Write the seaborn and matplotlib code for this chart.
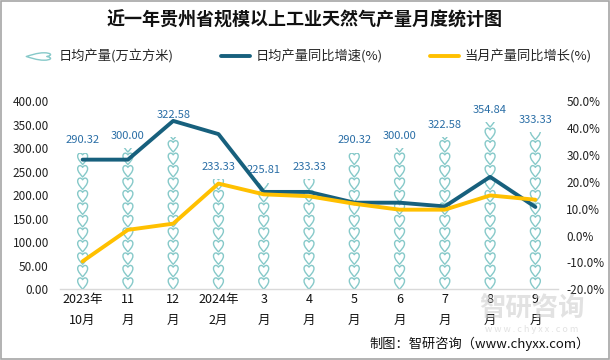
import numpy as np
import pandas as pd
import seaborn as sns
import matplotlib
matplotlib.use("Agg")
import matplotlib.pyplot as plt
from matplotlib.path import Path
from matplotlib.lines import Line2D
import matplotlib.patches as mpatches

# ---------------- data ----------------
months = ["2023年\n10月", "11\n月", "12\n月", "2024年\n2月", "3\n月", "4\n月",
          "5\n月", "6\n月", "7\n月", "8\n月", "9\n月"]
daily_output = [290.32, 300.00, 322.58, 233.33, 225.81, 233.33,
                290.32, 300.00, 322.58, 354.84, 333.33]
daily_yoy = [28.2, 28.2, 42.6, 37.7, 16.2, 16.2, 12.2, 12.2, 10.8, 21.8, 10.6]
monthly_yoy = [-9.6, 2.1, 4.4, 19.3, 15.3, 14.6, 11.8, 9.6, 9.6, 14.9, 13.3]
left_ticks = [0, 50, 100, 150, 200, 250, 300, 350, 400]
right_ticks = [-20, -10, 0, 10, 20, 30, 40, 50]
series_names = ["日均产量(万立方米)", "日均产量同比增速(%)", "当月产量同比增长(%)"]
title = "近一年贵州省规模以上工业天然气产量月度统计图"
source = "制图：智研咨询（www.chyxx.com）"

# ---------------- style ----------------
sns.set_theme(style="white")
plt.rcParams["font.family"] = ["Noto Sans CJK SC", "DejaVu Sans"]

TEAL = "#86c9c9"
DARK = "#17607d"
YELLOW = "#ffc000"
LABEL = "#2a6ea6"

# heart-shaped pictograph marker
heart_verts = np.array([
    (0, -1.0),
    (-0.25, -0.7), (-0.8, -0.2), (-0.8, 0.35),
    (-0.8, 0.85), (-0.3, 1.05), (0, 0.55),
    (0.3, 1.05), (0.8, 0.85), (0.8, 0.35),
    (0.8, -0.2), (0.25, -0.7), (0, -1.0),
    (0, -1.0),
])
heart_codes = [Path.MOVETO] + [Path.CURVE4] * 12 + [Path.CLOSEPOLY]
heart = Path(heart_verts, heart_codes)
legend_heart = Path(heart_verts[:, ::-1] * np.array([1.0, 0.35]), heart_codes)

df = pd.DataFrame({"month": months, "output": daily_output,
                   "dyoy": daily_yoy, "myoy": monthly_yoy})
pos = np.arange(len(months))

fig = plt.figure(figsize=(6.1, 3.6), dpi=100)

# faint watermark (behind everything)
fig.text(532 / 610, 1 - 309 / 360, "智研咨询", ha="center", va="center",
         fontsize=19, color="#cfcfcf", alpha=0.6, fontweight="bold", zorder=0)
fig.text(532 / 610, 1 - 330 / 360, "w w w . c h y x x . c o m", ha="center",
         va="center", fontsize=6.5, color="#cfcfcf", alpha=0.6, zorder=0)

ax = fig.add_axes([60 / 610, 1 - 289.3 / 360, (558 - 60) / 610, (289.3 - 101) / 360])
ax.patch.set_alpha(0)

sns.barplot(data=df, x="month", y="output", ax=ax, width=0.3,
            color="white", linewidth=0)
heart_unit = 26.5
bars = list(ax.patches)
for p in bars:
    p.set_facecolor("none")
    p.set_edgecolor("none")
    xc = p.get_x() + p.get_width() / 2
    h = p.get_height()
    ys = np.arange(heart_unit / 2, h + heart_unit / 2, heart_unit)
    sc = ax.scatter(np.full(len(ys), xc), ys, marker=heart, s=88,
                    facecolors="none", edgecolors=TEAL, linewidths=1.0, zorder=2)
    sc.set_clip_path(p)

label_offsets = [9, 9, 16, 9, 9, 9, 9, 9, 9, 9, 9]
for p, v, off in zip(bars, daily_output, label_offsets):
    ax.annotate(f"{v:.2f}", (p.get_x() + p.get_width() / 2, p.get_height()),
                xytext=(0, off), textcoords="offset points",
                ha="center", va="center", fontsize=8, color=LABEL, zorder=5)

ax.set_ylim(0, 400)
ax.set_xlim(-0.5, len(months) - 0.5)
ax.set_yticks(left_ticks)
ax.set_yticklabels([f"{t:.2f}" for t in left_ticks], fontsize=8.5, color="#222222")
ax.set_xticks(pos)
ax.set_xticklabels(months, fontsize=9, color="#111111", linespacing=1.75)
ax.tick_params(axis="y", length=0, pad=8)
ax.tick_params(axis="x", length=0, pad=3)
ax.set_xlabel("")
ax.set_ylabel("")
for s in ["top", "right", "left"]:
    ax.spines[s].set_visible(False)
ax.spines["bottom"].set_color("#d9d9d9")
ax.spines["bottom"].set_linewidth(1)

ax2 = ax.twinx()
sns.lineplot(x=pos, y=daily_yoy, ax=ax2, color=DARK, linewidth=2.8)
sns.lineplot(x=pos, y=monthly_yoy, ax=ax2, color=YELLOW, linewidth=2.8)
ax2.set_ylim(-20, 50)
ax2.set_yticks(right_ticks)
ax2.set_yticklabels([f"{t:.1f}%" for t in right_ticks], fontsize=8.5, color="#222222")
ax2.tick_params(axis="y", length=0, pad=6)
ax2.set_ylabel("")
for s in ax2.spines.values():
    s.set_visible(False)

handles = [
    Line2D([], [], linestyle="none", marker=legend_heart, markersize=20,
           markerfacecolor="none", markeredgecolor=TEAL, markeredgewidth=1.0),
    Line2D([], [], color=DARK, linewidth=2.8),
    Line2D([], [], color=YELLOW, linewidth=2.8),
]
fig.legend(handles, series_names, loc="center", bbox_to_anchor=(0.505, 1 - 57 / 360),
           ncol=3, frameon=False, fontsize=9.5, columnspacing=3.6,
           handlelength=2.2, handletextpad=0.4)

fig.text(0.5, 1 - 20 / 360, title, ha="center", va="center",
         fontsize=13, fontweight="bold", color="#111111")

fig.text(590 / 610, 1 - 344 / 360, source, ha="right", va="center",
         fontsize=9.5, color="#111111")

fig.patches.append(mpatches.Rectangle((0.001, 0.002), 0.997, 0.995,
                                      transform=fig.transFigure, fill=False,
                                      edgecolor="#a6a6a6", linewidth=1.2))

fig.savefig("out.png", dpi=100)
